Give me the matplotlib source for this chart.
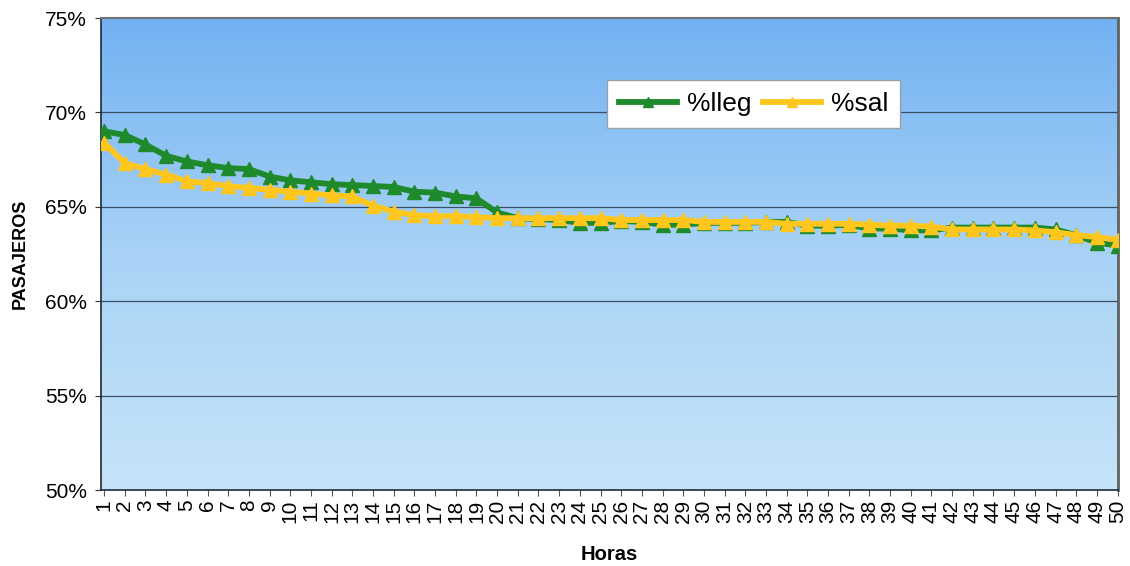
import numpy as np
import matplotlib
matplotlib.use("Agg")
import matplotlib.pyplot as plt
from matplotlib.colors import LinearSegmentedColormap
from matplotlib.ticker import FuncFormatter

plt.rcParams['font.family'] = ['Liberation Sans', 'DejaVu Sans']

horas = list(range(1, 51))

pct_lleg = [69.0, 68.8, 68.3, 67.7, 67.4, 67.2, 67.05, 67.0, 66.6, 66.4,
            66.3, 66.2, 66.15, 66.1, 66.05, 65.8, 65.75, 65.55, 65.45, 64.7,
            64.4, 64.35, 64.3, 64.15, 64.15, 64.25, 64.2, 64.05, 64.05, 64.15,
            64.15, 64.15, 64.2, 64.2, 64.0, 64.0, 64.05, 63.85, 63.85, 63.75,
            63.75, 63.9, 63.9, 63.9, 63.9, 63.9, 63.8, 63.5, 63.1, 62.95]

pct_sal = [68.4, 67.3, 67.0, 66.7, 66.35, 66.25, 66.1, 66.0, 65.9, 65.8,
           65.7, 65.6, 65.55, 65.05, 64.75, 64.55, 64.5, 64.5, 64.45, 64.4,
           64.4, 64.4, 64.4, 64.4, 64.4, 64.3, 64.3, 64.3, 64.3, 64.2,
           64.2, 64.2, 64.2, 64.1, 64.1, 64.1, 64.1, 64.05, 64.0, 64.0,
           63.95, 63.8, 63.8, 63.8, 63.8, 63.75, 63.65, 63.5, 63.4, 63.25]

y_ticks = [50, 55, 60, 65, 70, 75]

fig = plt.figure(figsize=(11.3, 5.66), dpi=100)
ax = fig.add_axes([101 / 1130, 1 - 490 / 566, (1118 - 101) / 1130, (490 - 18) / 566])

# vertical blue gradient behind the plot area
grad = np.linspace(0, 1, 256).reshape(-1, 1)
cmap = LinearSegmentedColormap.from_list("bg", ["#c6e4f9", "#a8d3f6", "#72b1f2"])
ax.imshow(grad, cmap=cmap, aspect='auto', origin='lower',
          extent=[0, 1, 0, 1], transform=ax.transAxes, zorder=0)

ax.set_xlim(0.85, 50.02)
ax.set_ylim(50, 75)

for v in [55, 60, 65, 70]:
    ax.axhline(v, color='#3a4e66', lw=0.9, zorder=1)

green = '#1e8a2c'
yellow = '#ffc61e'
ax.plot(horas, pct_lleg, color=green, lw=4.2, marker='^', ms=10,
        mec=green, mfc=green, label='%lleg', zorder=3)
ax.plot(horas, pct_sal, color=yellow, lw=4.2, marker='^', ms=10,
        mec=yellow, mfc=yellow, label='%sal', zorder=4)

ax.set_yticks(y_ticks)
ax.yaxis.set_major_formatter(FuncFormatter(lambda v, p: f"{int(v)}%"))
ax.set_xticks(horas)
ax.set_xticklabels([str(h) for h in horas], rotation=90, fontsize=15)
ax.tick_params(axis='y', labelsize=15, length=4, color='#333333', pad=6)
ax.tick_params(axis='x', length=4, color='#555555', pad=3)

ax.set_ylabel('PASAJEROS', fontsize=13, fontweight='bold', labelpad=12)
ax.set_xlabel('Horas', fontsize=14.5, fontweight='bold', labelpad=16)

ax.spines['left'].set_color('#1e2a3a')
ax.spines['bottom'].set_color('#1e2a3a')
ax.spines['left'].set_linewidth(1.2)
ax.spines['bottom'].set_linewidth(1.2)
ax.spines['top'].set_color('#707070')
ax.spines['right'].set_color('#606060')
ax.spines['top'].set_linewidth(1.5)
ax.spines['right'].set_linewidth(2.0)

leg = ax.legend(loc='upper left', bbox_to_anchor=(607 / 1130, 1 - 80 / 566),
                bbox_transform=fig.transFigure, borderaxespad=0, ncol=2,
                fontsize=19, frameon=True, fancybox=False, framealpha=1,
                edgecolor='#9aa0a8', handlelength=2.2, columnspacing=0.4,
                handletextpad=0.4, borderpad=0.45, markerscale=0.7)
leg.get_frame().set_linewidth(1.0)

fig.savefig('out.png', dpi=100, facecolor='white')
